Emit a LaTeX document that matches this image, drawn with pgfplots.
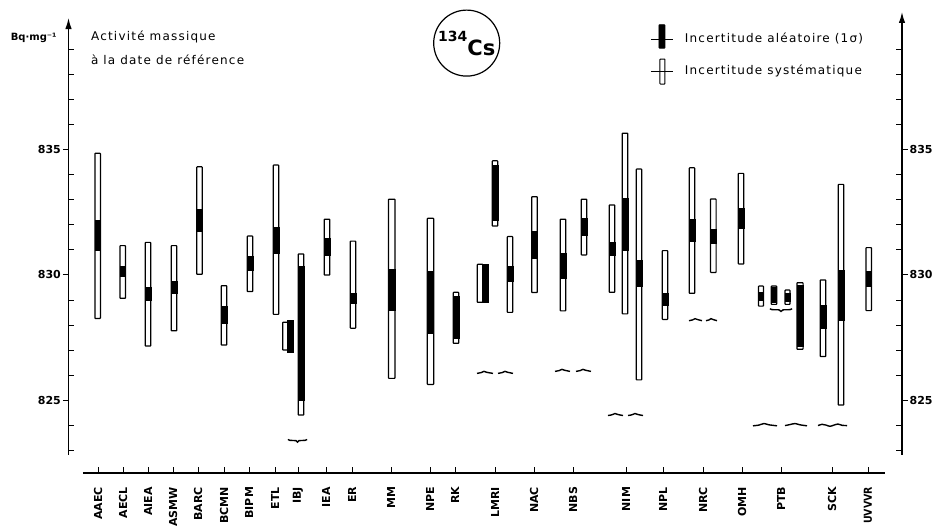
\documentclass[border=0pt]{standalone}
\usepackage{pgfplots}
\pgfplotsset{compat=1.18}
\usepackage{fontspec}
\setmainfont{DejaVu Sans}
\newfontfamily\txt[LetterSpace=10]{DejaVu Sans}
\usetikzlibrary{arrows.meta}
\newcommand\lblfont{\fontsize{5.5}{6}\selectfont\bfseries}
\newcommand\txtfont{\txt\fontsize{6}{7}\selectfont}
% open rectangle: x-left, x-right, low, high
\newcommand\sys[4]{\addplot[draw=black, line width=0.6pt, fill=white, rounded corners=0.3pt] coordinates {(#1,#3) (#2,#3) (#2,#4) (#1,#4)} -- cycle;}
% filled rectangle: x-left, x-right, low, high
\newcommand\rnd[4]{\addplot[draw=black, line width=0.3pt, fill=black] coordinates {(#1,#3) (#2,#3) (#2,#4) (#1,#4)} -- cycle;}
\newcommand\both[6]{\sys{#1}{#2}{#3}{#4}\rnd{#1}{#2}{#5}{#6}}
\begin{document}
\begin{tikzpicture}
\useasboundingbox (0,0) rectangle (466pt,263.5pt);
\begin{axis}[
  at={(34.25pt,27pt)}, anchor=south west,
  scale only axis, width=416.75pt, height=227.5pt,
  xmin=68.5, xmax=902, ymin=822.11, ymax=840.24,
  clip=false,
  axis x line*=bottom, axis y line*=left,
  axis line style={draw=none},
  tick align=inside,
  major tick length=2.8pt,
  every tick/.style={black, line width=0.5pt},
  xtick={98,123,148,173,198,224,249,275,298,326,352,391,430,455,495,534,573,626,663,703,742,781,832,868},
  xticklabels={AAEC,AECL,AIEA,ASMW,BARC,BCMN,BIPM,ETL,IBJ,IEA,ER,MM,NPE,RK,LMRI,NAC,NBS,NIM,NPL,NRC,OMH,PTB,SCK,{\scalebox{0.86}[1]{UVVVR}}},
  xticklabel style={rotate=90, anchor=east, font=\lblfont, inner sep=0pt},
  xticklabel shift=6.8pt,
  ytick={823,824,826,827,828,829,831,832,833,834,836,837,838,839},
  yticklabels={},
  extra y ticks={825,830,835},
  extra y tick labels={825,830,835},
  extra y tick style={tick align=outside, yticklabel style={font=\lblfont, inner sep=0.8pt}},
  legend style={at={(0.6977,0.987)}, anchor=north west, draw=none, fill=none,
    font=\txtfont, inner sep=0pt, row sep=5pt,
    nodes={inner sep=1pt}},
  legend cell align=left,
]
\addlegendimage{legend image code/.code={
  \path[draw=none, fill=none] (0pt,0pt) -- (16pt,0pt);
  \draw[black, line width=0.5pt] (0pt,0pt) -- (11pt,0pt);
  \fill[black, rounded corners=0.3pt] (4pt,-4.5pt) rectangle (7pt,7.2pt);}}
\addlegendentry{Incertitude aléatoire (1σ)}
\addlegendimage{legend image code/.code={
  \path[draw=none, fill=none] (0pt,0pt) -- (16pt,0pt);
  \draw[black, line width=0.5pt, fill=white, rounded corners=0.3pt] (4.5pt,-6.5pt) rectangle (7pt,6pt);
  \draw[black, line width=0.5pt] (0pt,0pt) -- (11pt,0pt);}}
\addlegendentry{Incertitude systématique}

% axis lines
\draw[line width=0.6pt, -{Latex[length=5.5pt,width=3.2pt]}] (axis cs:68.5,822.83) -- (axis cs:68.5,840.24);
\draw[line width=0.6pt, -{Latex[length=5.5pt,width=3.2pt]}] (axis cs:902,822.83) -- (axis cs:902,840.48);
\draw[line width=0.6pt] (axis cs:83,822.11) -- (axis cs:885,822.11);

% bars: xl, xr, sys low, sys high, random low, random high
\both{94.9}{100.5}{828.27}{834.85}{831.00}{832.19}   % AAEC
\both{119.9}{125.5}{829.07}{831.17}{829.93}{830.33}  % AECL
\both{145.2}{150.8}{827.17}{831.30}{829.00}{829.49}  % AIEA
\both{171.2}{176.8}{827.78}{831.17}{829.27}{829.73}  % ASMW
\both{196.7}{202.3}{830.03}{834.31}{831.73}{832.62}  % BARC
\both{221.2}{226.8}{827.21}{829.57}{828.08}{828.74}  % BCMN
\both{247.2}{252.8}{829.34}{831.55}{830.20}{830.73}  % BIPM
\both{273.2}{278.8}{828.43}{834.38}{830.86}{831.92}  % ETL
\sys{282.7}{287.7}{827.01}{828.12}                   % ETL 2
\rnd{287.7}{293.3}{826.92}{828.21}
\both{298.2}{303.8}{824.42}{830.84}{825.02}{830.33}  % IBJ
\both{324.2}{329.8}{830.00}{832.22}{830.80}{831.46}  % IEA
\both{350.2}{355.8}{827.88}{831.35}{828.87}{829.27}  % ER
\both{388.4}{395.0}{825.88}{833.02}{828.61}{830.24}  % MM
\both{427.3}{433.7}{825.64}{832.26}{827.68}{830.13}  % NPE
\both{453.2}{458.8}{827.28}{829.31}{827.48}{829.14}  % RK
\sys{477.3}{482.7}{828.91}{830.43}                   % LMRI 1
\rnd{482.7}{488.0}{828.91}{830.43}
\both{492.2}{497.8}{831.95}{834.55}{832.19}{834.38}  % LMRI 2
\both{507.2}{512.8}{828.51}{831.53}{829.73}{830.33}  % LMRI 3
\both{531.7}{537.3}{829.30}{833.12}{830.67}{831.73}  % NAC
\both{560.2}{565.8}{828.57}{832.22}{829.87}{830.86}  % NBS 1
\both{581.2}{586.8}{830.80}{833.02}{831.59}{832.26}  % NBS 2
\both{609.2}{614.8}{829.31}{832.79}{830.80}{831.29}  % NIM 1
\both{622.2}{627.8}{828.45}{835.65}{831.00}{833.06}  % NIM 2
\both{636.2}{641.8}{825.82}{834.22}{829.53}{830.60}  % NIM 3
\both{662.2}{667.8}{828.23}{830.97}{828.80}{829.27}  % NPL
\both{689.2}{694.8}{829.27}{834.27}{831.35}{832.22}  % NRC 1
\both{710.5}{716.1}{830.10}{833.03}{831.26}{831.82}  % NRC 2
\both{738.2}{743.8}{830.44}{834.05}{831.86}{832.66}  % OMH
\both{758.5}{763.5}{828.76}{829.56}{829.00}{829.33}  % PTB 1
\both{771.3}{776.7}{828.83}{829.56}{828.90}{829.51}  % PTB 2
\both{785.0}{790.0}{828.83}{829.40}{828.96}{829.27}  % PTB 3
\both{796.9}{803.1}{827.04}{829.69}{827.14}{829.60}  % PTB 4
\both{820.2}{825.8}{826.75}{829.80}{827.88}{828.80}  % SCK 1
\both{838.2}{843.8}{824.82}{833.61}{828.20}{830.20}  % SCK 2
\both{865.9}{871.5}{828.58}{831.09}{829.53}{830.13}  % UVVVR

% wavy marks
\addplot[smooth, line width=0.7pt] coordinates {(288,823.45)(290,823.41)(296,823.40)(297.5,823.34)(299,823.40)(305,823.41)(307,823.45)};
\addplot[smooth, line width=0.7pt] coordinates {(477,826.08)(481,826.11)(484,826.16)(487,826.12)(493,826.08)};
\addplot[smooth, line width=0.7pt] coordinates {(498,826.08)(502,826.11)(505,826.16)(508,826.12)(513,826.08)};
\addplot[smooth, line width=0.7pt] coordinates {(555,826.16)(559,826.19)(562,826.24)(565,826.20)(570,826.16)};
\addplot[smooth, line width=0.7pt] coordinates {(576,826.16)(580,826.19)(583,826.24)(586,826.20)(591,826.16)};
\addplot[smooth, line width=0.7pt] coordinates {(608,824.40)(612,824.43)(615,824.48)(618,824.44)(623,824.40)};
\addplot[smooth, line width=0.7pt] coordinates {(628,824.40)(632,824.43)(635,824.48)(638,824.44)(643,824.40)};
\addplot[smooth, line width=0.7pt] coordinates {(689,828.18)(692.5,828.21)(695,828.26)(698,828.22)(702,828.18)};
\addplot[smooth, line width=0.7pt] coordinates {(706,828.18)(709,828.21)(711,828.26)(713.5,828.22)(717,828.18)};
\addplot[smooth, line width=0.7pt] coordinates {(770,828.66)(772,828.62)(779,828.61)(781,828.55)(783,828.61)(790,828.62)(792,828.66)};
\addplot[smooth, line width=0.7pt] coordinates {(753,823.99)(759,824.02)(764,824.08)(769,824.03)(777,823.99)};
\addplot[smooth, line width=0.7pt] coordinates {(785,824.00)(790,824.04)(795,824.08)(800,824.03)(807,823.99)};
\addplot[smooth, line width=0.7pt] coordinates {(818,824.00)(822,824.05)(826,824.02)(830,823.97)(834,824.02)(838,824.06)(842,824.01)(847,824.00)};

% texts
\node[anchor=base east, inner sep=0pt, font={\fontsize{5}{6}\selectfont\bfseries}] at (axis cs:57,839.33) {Bq·mg⁻¹};
\node[anchor=base west, font=\txtfont, inner sep=0pt] at (axis cs:90.7,839.36) {Activité massique};
\node[anchor=base west, font=\txtfont, inner sep=0pt] at (axis cs:90.7,838.37) {à la date de référence};
\node[circle, draw, line width=0.6pt, minimum size=33pt, inner sep=0pt] at (axis cs:466.7,839.24)
  {\raisebox{7pt}{\fontsize{7}{7}\selectfont\bfseries 134}{\fontsize{10.5}{10.5}\selectfont\bfseries Cs}};
\end{axis}
\begin{axis}[
  at={(34.25pt,27pt)}, anchor=south west,
  scale only axis, width=416.75pt, height=227.5pt,
  xmin=68.5, xmax=902, ymin=822.11, ymax=840.24,
  clip=false,
  axis x line=none, axis y line*=right,
  axis line style={draw=none},
  tick align=inside,
  major tick length=2.8pt,
  every tick/.style={black, line width=0.5pt},
  ytick={823,824,826,827,828,829,831,832,833,834,836,837,838,839},
  yticklabels={},
  extra y ticks={825,830,835},
  extra y tick labels={825,830,835},
  extra y tick style={tick align=outside, yticklabel style={font=\lblfont, inner sep=0.8pt}},
]
\end{axis}
\end{tikzpicture}
\end{document}
